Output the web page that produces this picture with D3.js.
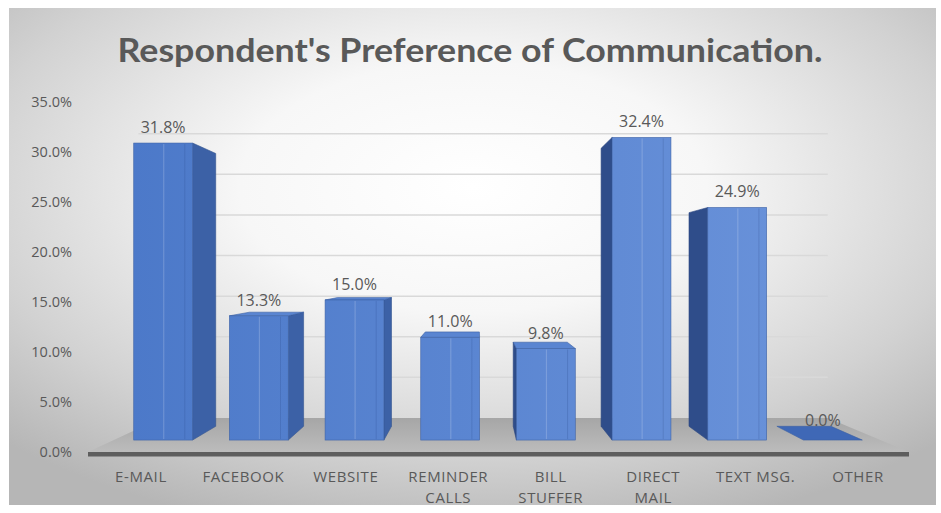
<!DOCTYPE html>
<html>
<head>
<meta charset="utf-8">
<script src="https://cdn.jsdelivr.net/npm/d3@7"></script>
<style>
  html, body { margin: 0; padding: 0; background: #ffffff; }
  svg { display: block; }
  .lbl { font-family: "Open Sans", "Liberation Sans", sans-serif; fill: #595959; }
</style>
</head>
<body>
<svg id="chart" width="941" height="513"></svg>
<script>
// Survey results: share of respondents preferring each channel (%)
const categories = ["E-MAIL", "FACEBOOK", "WEBSITE", "REMINDER\nCALLS", "BILL\nSTUFFER", "DIRECT\nMAIL", "TEXT MSG.", "OTHER"];
const values = [31.8, 13.3, 15.0, 11.0, 9.8, 32.4, 24.9, 0.0];
const yTicks = [0, 5, 10, 15, 20, 25, 30, 35];
const title = "Respondent's Preference of Communication.";

const svg = d3.select("#chart");
const defs = svg.append("defs");

// Scales on the front plane of the floor
const x = d3.scaleBand().domain(categories).range([90, 909]).paddingInner(0.385).paddingOuter(0.19);
const y = d3.scaleLinear().domain([0, 35]).range([452, 102]);

// One-point perspective: depth factors relative to the floor's front edge
const VP = [477, 271];
const K_FLOOR = 1, K_FRONT = 0.934, K_BACK = 0.858, K_WALL = 0.812;
function proj(u, v, k) {
  return [VP[0] + (u - VP[0]) * k, VP[1] + (y(v) - VP[1]) * k];
}
const poly = pts => "M" + pts.map(p => p[0].toFixed(2) + "," + p[1].toFixed(2)).join("L") + "Z";

// Background
const bg = defs.append("radialGradient").attr("id", "bg").attr("cx", 0.5).attr("cy", 0.36).attr("r", 0.72);
[[0, "#ffffff"], [0.35, "#f7f7f7"], [0.75, "#d2d2d2"], [1, "#b6b6b6"]].forEach(s =>
  bg.append("stop").attr("offset", s[0]).attr("stop-color", s[1]));
svg.append("rect").attr("x", 9).attr("y", 8).attr("width", 927).attr("height", 497).attr("fill", "url(#bg)");

// Front face gradient across the chart
const fg = defs.append("linearGradient").attr("id", "front").attr("gradientUnits", "userSpaceOnUse")
  .attr("x1", 130).attr("x2", 780).attr("y1", 0).attr("y2", 0);
fg.append("stop").attr("offset", 0).attr("stop-color", "#4c79c9");
fg.append("stop").attr("offset", 1).attr("stop-color", "#6891d9");

const uL = x.range()[0], uR = x.range()[1];

// Back wall gridlines
svg.append("g").selectAll("line").data(yTicks.filter(t => t > 0)).join("line")
  .attr("x1", t => proj(uL - 30, t, K_WALL)[0]).attr("y1", t => proj(uL - 30, t, K_WALL)[1])
  .attr("x2", t => proj(uR, t, K_WALL)[0]).attr("y2", t => proj(uR, t, K_WALL)[1])
  .attr("stroke", "#d9d9d9").attr("stroke-width", 1.5);

// Floor
const flg = defs.append("linearGradient").attr("id", "floor").attr("x1", 0).attr("x2", 0).attr("y1", 0).attr("y2", 1);
flg.append("stop").attr("offset", 0).attr("stop-color", "#a6a6a6");
flg.append("stop").attr("offset", 1).attr("stop-color", "#bcbcbc");
svg.append("path")
  .attr("d", poly([proj(uL - 2, 0, K_FLOOR), proj(uR, 0, K_FLOOR), proj(uR, 0, K_WALL), proj(uL - 2, 0, K_WALL)]))
  .attr("fill", "url(#floor)");
svg.append("path")
  .attr("d", poly([proj(uL - 2, 0, K_FLOOR), proj(uR, 0, K_FLOOR), proj(uR, -0.45, K_FLOOR), proj(uL - 2, -0.45, K_FLOOR)]))
  .attr("fill", "#5e5e5e");

// Bars
const bars = svg.append("g");
const valueLabels = svg.append("g");
categories.forEach((c, i) => {
  const v = values[i];
  const a = x(c), b = x(c) + x.bandwidth();
  const g = bars.append("g");
  const cx = (a + b) / 2;
  // side face toward the vanishing point
  if (proj(b, 0, K_FRONT)[0] < VP[0] && v > 0) {
    g.append("path").attr("d", poly([proj(b, 0, K_FRONT), proj(b, 0, K_BACK), proj(b, v, K_BACK), proj(b, v, K_FRONT)]))
      .attr("fill", "#3c61a6").attr("stroke", "#33548f").attr("stroke-width", 0.6);
  } else if (proj(a, 0, K_FRONT)[0] > VP[0] && v > 0) {
    g.append("path").attr("d", poly([proj(a, 0, K_FRONT), proj(a, 0, K_BACK), proj(a, v, K_BACK), proj(a, v, K_FRONT)]))
      .attr("fill", "#2f4d8a").attr("stroke", "#2a4580").attr("stroke-width", 0.6);
  }
  // top face when seen from above
  if (proj(cx, v, K_FRONT)[1] > VP[1]) {
    g.append("path").attr("d", poly([proj(a, v, K_FRONT), proj(b, v, K_FRONT), proj(b, v, K_BACK), proj(a, v, K_BACK)]))
      .attr("fill", v > 0 ? "#5a85d1" : "#3f68b6").attr("stroke", "#3a5fa3").attr("stroke-width", 0.6);
  }
  if (v > 0) {
    const p0 = proj(a, v, K_FRONT), p1 = proj(b, 0, K_FRONT);
    const w = p1[0] - p0[0], h = p1[1] - p0[1];
    g.append("rect").attr("x", p0[0]).attr("y", p0[1]).attr("width", w).attr("height", h)
      .attr("fill", "url(#front)").attr("stroke", "#3d62a6").attr("stroke-width", 0.6);
    // soft vertical highlight and shade lines
    g.append("rect").attr("x", p0[0] + w * 0.5).attr("y", p0[1] + 1).attr("width", 1.2).attr("height", h - 2)
      .attr("fill", "#ffffff").attr("opacity", 0.18);
    g.append("rect").attr("x", p0[0] + w * 0.86).attr("y", p0[1] + 1).attr("width", 1).attr("height", h - 2)
      .attr("fill", "#24437d").attr("opacity", 0.2);
  }
  // value label
  const lp = proj(cx, v, K_FRONT);
  valueLabels.append("text").attr("class", "lbl").attr("x", lp[0] - (v > 0 ? 0 : 10)).attr("y", lp[1] - (v > 0 ? 10 : 14))
    .attr("text-anchor", "middle").attr("font-size", 16).text(v.toFixed(1) + "%");
});

// Value axis labels
svg.append("g").selectAll("text").data(yTicks).join("text").attr("class", "lbl")
  .attr("x", 72).attr("y", t => y(t) + 5).attr("text-anchor", "end").attr("font-size", 14.5)
  .text(t => t.toFixed(1) + "%");

// Category labels, one text per line
const catG = svg.append("g");
categories.forEach(c => {
  c.split("\n").forEach((line, j) => {
    catG.append("text").attr("class", "lbl")
      .attr("x", x(c) + x.bandwidth() / 2).attr("y", 482 + j * 21)
      .attr("text-anchor", "middle").attr("font-size", 15).attr("letter-spacing", 0.6)
      .text(line);
  });
});

// Title
svg.append("text").attr("x", 470).attr("y", 62).attr("text-anchor", "middle")
  .attr("font-family", "Lato, 'Open Sans', sans-serif").attr("font-weight", 700).attr("font-size", 33)
  .attr("fill", "#595959").attr("textLength", 705).attr("lengthAdjust", "spacingAndGlyphs").text(title);
</script>
</body>
</html>
